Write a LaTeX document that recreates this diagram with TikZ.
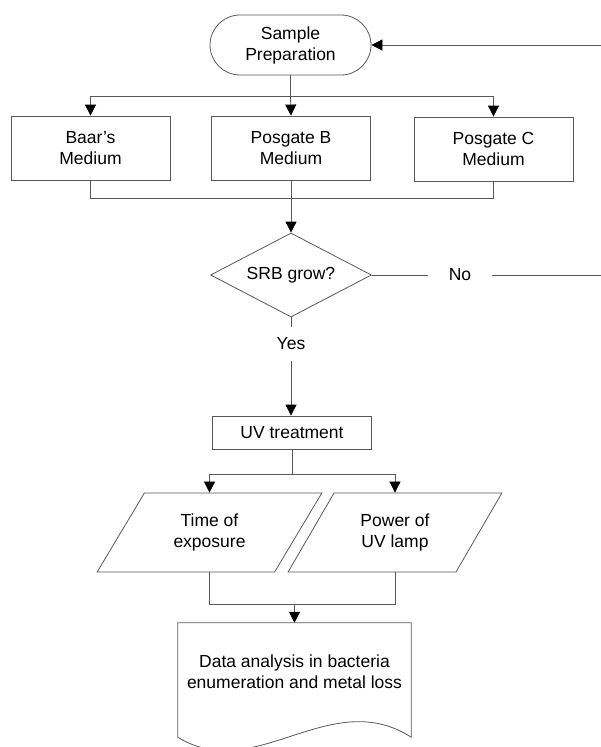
\documentclass[tikz,border=0pt]{standalone}
\usepackage{fontspec}
\setmainfont{Liberation Sans}
\usetikzlibrary{shapes.geometric, arrows.meta}

\begin{document}
\begin{tikzpicture}[x=1pt, y=-1pt,
    every node/.style={font=\fontsize{17.5}{21}\selectfont, text=black},
    line/.style={draw=black!65, line width=0.8pt},
    arrow/.style={line, -{Triangle[width=11pt, length=11pt, color=black]}},
    box/.style={line, rectangle, align=center, inner sep=0pt,
                minimum width=159pt, minimum height=64pt},
    term/.style={line, rectangle, rounded corners=30pt, align=center,
                 minimum width=161pt, minimum height=60pt},
    decision/.style={line, diamond, aspect=1.92, inner sep=0pt,
                     minimum width=161pt, minimum height=84pt},
    iobox/.style={line, trapezium, trapezium left angle=57,
                  trapezium right angle=123, trapezium stretches=true,
                  align=center, minimum height=79pt}]

    \clip (0,0) rectangle (601,747);

    \node[term] (prep) at (290.5, 45) {Sample\\Preparation};

    \node[box] (baar) at (90.5, 148) {Baar's\\Medium};
    \node[box] (posb) at (291, 148) {Posgate B\\Medium};
    \node[box] (posc) at (493.5, 149) {Posgate C\\Medium};

    \node[decision] (grow) at (291, 275) {SRB grow?};
    \node[inner xsep=21pt] (no) at (460, 275) {No};
    \node[inner ysep=11pt] (yes) at (291, 344) {Yes};

    \node[box, minimum height=33pt] (uv) at (292, 432.5) {UV treatment};

    \node[iobox, minimum width=225pt] (time) at (209.5, 532.5) {Time of\\exposure};
    \node[iobox, minimum width=214pt] (power) at (395, 532.5) {Power of\\UV lamp};

    \node[minimum width=233pt, minimum height=114pt, inner sep=0pt] (data) at (294.5, 680) {};
    \node[align=center] (datatext) at (294.5, 671.5)
        {Data analysis in bacteria\\enumeration and metal loss};

    \coordinate (split) at (290.5, 96);
    \coordinate (uvsplit) at (292, 474);
    \coordinate (pjoin) at (294.5, 604);
    \coordinate (loopin) at (601, 45);
    \coordinate (loopout) at (601, 275);

    \draw[arrow] (loopin) -- (prep.east);
    \draw[line] (prep.south) -- (split);
    \draw[arrow] (split) -| (baar.north);
    \draw[arrow] (split) -- (posb.north);
    \draw[arrow] (split) -| (posc.north);

    \draw[line] (baar.south) -- ++(0, 18) -| (posc.south);
    \draw[arrow] (posb.south) -- (grow.north);

    \draw[line] (grow.east) -- (no.west);
    \draw[line] (no.east) -- (loopout);
    \draw[line] (grow.south) -- (yes.north);
    \draw[arrow] (yes.south) -- (yes.south |- uv.north);

    \draw[line] (uv.south) -- (uvsplit);
    \draw[arrow] (uvsplit) -| (time.north);
    \draw[arrow] (uvsplit) -| (power.north);

    \draw[line] (time.south) -- ++(0, 31.5) -| (power.south);
    \draw[arrow] (pjoin) -- (data.north);

    \draw[line] (data.north west) -- (data.north east) -- (data.south east)
        .. controls (330, 685) and (255, 785) .. (data.south west) -- cycle;

\end{tikzpicture}
\end{document}
